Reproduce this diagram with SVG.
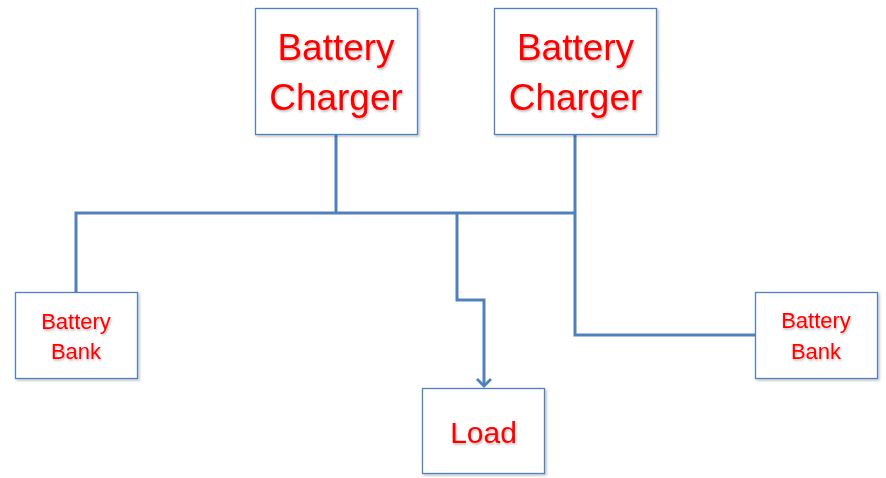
<svg xmlns="http://www.w3.org/2000/svg" width="886" height="478" viewBox="0 0 886 478">
<style>
.box{fill:#fff;stroke:#4F81BD;stroke-width:1.3;filter:url(#sh)}
.t{font-family:"Liberation Sans",Arial,sans-serif;fill:#FF0000;text-anchor:middle;filter:url(#tsh)}
.big{font-size:37px}
.sm{font-size:22px}
.md{font-size:30px}
.c{fill:none;stroke:#4F81BD;stroke-width:3;stroke-linejoin:miter}
</style>
<defs>
<filter id="sh" x="-10%" y="-10%" width="125%" height="125%">
<feDropShadow dx="1.5" dy="1.5" stdDeviation="1.2" flood-color="#000" flood-opacity="0.25"/>
</filter>
<filter id="tsh" x="-10%" y="-20%" width="125%" height="150%">
<feDropShadow dx="1" dy="1.5" stdDeviation="1" flood-color="#000" flood-opacity="0.3"/>
</filter>
<marker id="arr" markerWidth="14" markerHeight="16" refX="9" refY="8" orient="auto" markerUnits="userSpaceOnUse" viewBox="0 0 14 16">
<path d="M2,1 L9,8 L2,15" fill="none" stroke="#4F81BD" stroke-width="2.8"/>
</marker>
</defs>
<g id="connectors">
<path class="c" d="M336,134 V213"/>
<path class="c" d="M76,292 V213 H575"/>
<path class="c" d="M575,134 V335 H755"/>
<path class="c" d="M457,213 V300 H484 V386" marker-end="url(#arr)"/>
</g>
<g id="charger1">
<rect class="box" x="255.5" y="8.5" width="162" height="126"/>
<text class="t big" x="336" y="60">Battery</text>
<text class="t big" x="336" y="110">Charger</text>
</g>
<g id="charger2">
<rect class="box" x="494.5" y="8.5" width="162" height="126"/>
<text class="t big" x="575.5" y="60">Battery</text>
<text class="t big" x="575.5" y="110">Charger</text>
</g>
<g id="bank1">
<rect class="box" x="15.5" y="292.5" width="122" height="86"/>
<text class="t sm" x="76" y="329">Battery</text>
<text class="t sm" x="76" y="359">Bank</text>
</g>
<g id="bank2">
<rect class="box" x="755.5" y="292.5" width="122" height="86"/>
<text class="t sm" x="816" y="328">Battery</text>
<text class="t sm" x="816" y="359">Bank</text>
</g>
<g id="load">
<rect class="box" x="422.5" y="388.5" width="122" height="85"/>
<text class="t md" x="483.5" y="443">Load</text>
</g>
</svg>
